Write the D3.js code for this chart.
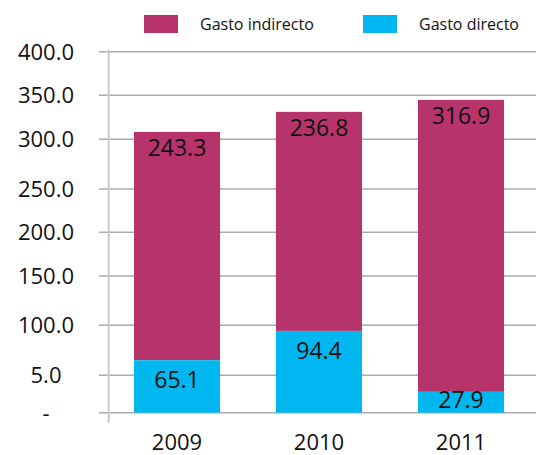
<!DOCTYPE html>
<html>
<head>
<meta charset="utf-8">
<script src="https://cdn.jsdelivr.net/npm/d3@7"></script>
<style>
  body { margin: 0; background: #fff; }
  text { font-family: "Open Sans", sans-serif; fill: #111; }
</style>
</head>
<body>
<div id="chart"></div>
<script>
// datos
var years = ["2009", "2010", "2011"];
var gastoDirecto = [65.1, 94.4, 27.9];
var gastoIndirecto = [243.3, 236.8, 316.9];
var tickValues = [0, 50, 100, 150, 200, 250, 300, 350, 400];
var tickLabels = ["-", "5.0", "100.0", "150.0", "200.0", "250.0", "300.0", "350.0", "400.0"];
var seriesNames = ["Gasto indirecto", "Gasto directo"];

var width = 536, height = 455;
var colors = { indirecto: "#B7346B", directo: "#00B7EF" };

var svg = d3.select("#chart").append("svg")
    .attr("width", width)
    .attr("height", height);

// el eje original no es uniforme: posiciones medidas de cada linea
var tickY = [412.7, 375.3, 325.3, 276, 232.3, 189, 139.3, 95.3, 51.7];
var y = d3.scaleLinear().domain(tickValues).range(tickY);

var x = d3.scaleBand()
    .domain(years)
    .range([106, 532])
    .paddingInner(0.394)
    .paddingOuter(0.197);

// grid lines
svg.selectAll("line.grid")
    .data(tickValues)
    .enter().append("line")
    .attr("class", "grid")
    .attr("x1", 99).attr("x2", width)
    .attr("y1", function(d) { return y(d); })
    .attr("y2", function(d) { return y(d); })
    .attr("stroke", "#ABABAB")
    .attr("stroke-width", 1.5);

// eje vertical
svg.append("line")
    .attr("x1", 108.7).attr("x2", 108.7)
    .attr("y1", y(400) - 2).attr("y2", y(0) + 10)
    .attr("stroke", "#C9C9C9")
    .attr("stroke-width", 2);

// y labels
svg.selectAll("text.ylab")
    .data(tickValues)
    .enter().append("text")
    .attr("class", "ylab")
    .attr("x", 46)
    .attr("y", function(d) { return y(d); })
    .attr("dy", "0.36em")
    .attr("text-anchor", "middle")
    .style("font-size", "22px")
    .text(function(d, i) { return tickLabels[i]; });

// bars
var stacked = years.map(function(yr, i) {
  return { year: yr, directo: gastoDirecto[i], indirecto: gastoIndirecto[i] };
});

var bar = svg.selectAll("g.bar")
    .data(stacked)
    .enter().append("g")
    .attr("class", "bar");

bar.append("rect")
    .attr("x", function(d) { return x(d.year); })
    .attr("width", x.bandwidth())
    .attr("y", function(d) { return y(d.directo + d.indirecto); })
    .attr("height", function(d) { return y(d.directo) - y(d.directo + d.indirecto); })
    .attr("fill", colors.indirecto);

bar.append("rect")
    .attr("x", function(d) { return x(d.year); })
    .attr("width", x.bandwidth())
    .attr("y", function(d) { return y(d.directo); })
    .attr("height", function(d) { return y(0) - y(d.directo); })
    .attr("fill", colors.directo);

bar.append("text")
    .attr("x", function(d) { return x(d.year) + x.bandwidth() / 2; })
    .attr("y", function(d) { return y(d.directo + d.indirecto) + 24; })
    .attr("text-anchor", "middle")
    .style("font-size", "23px")
    .text(function(d) { return d.indirecto.toFixed(1); });

bar.append("text")
    .attr("x", function(d) { return x(d.year) + x.bandwidth() / 2; })
    .attr("y", function(d) { return Math.min(y(d.directo) + 28, y(0) - 5); })
    .attr("text-anchor", "middle")
    .style("font-size", "23px")
    .text(function(d) { return d.directo.toFixed(1); });

// x labels
svg.selectAll("text.xlab")
    .data(years)
    .enter().append("text")
    .attr("class", "xlab")
    .attr("x", function(d) { return x(d) + x.bandwidth() / 2; })
    .attr("y", 450)
    .attr("text-anchor", "middle")
    .style("font-size", "22px")
    .text(function(d) { return d; });

// legend
var legendX = [144, 363];
var legend = svg.selectAll("g.legend")
    .data(seriesNames)
    .enter().append("g")
    .attr("class", "legend")
    .attr("transform", function(d, i) { return "translate(" + legendX[i] + ",15)"; });

legend.append("rect")
    .attr("width", 34).attr("height", 18)
    .attr("fill", function(d, i) { return i === 0 ? colors.indirecto : colors.directo; });

legend.append("text")
    .attr("x", 56)
    .attr("y", 14.5)
    .style("font-size", "16px")
    .text(function(d) { return d; });
</script>
</body>
</html>
